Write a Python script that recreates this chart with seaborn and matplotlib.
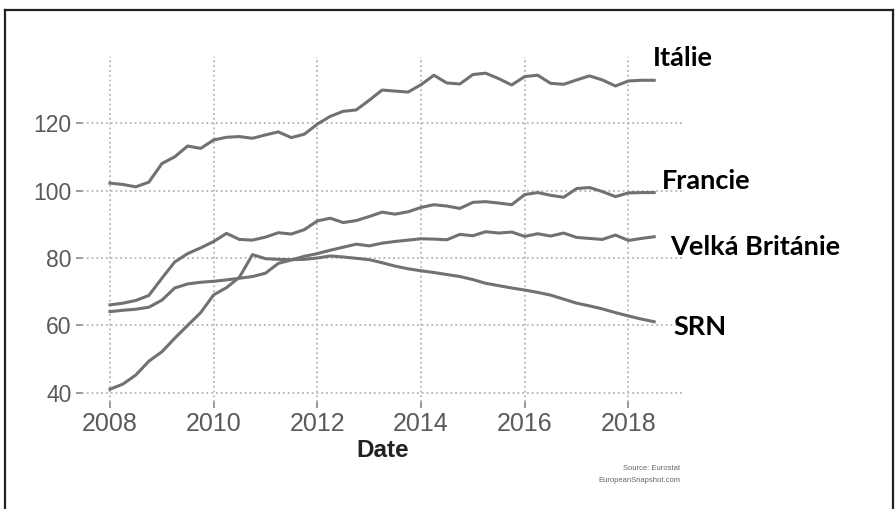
import pandas as pd
import seaborn as sns
import matplotlib.pyplot as plt
import matplotlib.dates as mdates
from matplotlib.lines import Line2D

##############
#### DATA ####
##############

dates = pd.date_range('2008-01-01', periods=43, freq='QS')

italie = [102.2, 101.8, 101.1, 102.5, 108.0, 110.0, 113.2, 112.5, 115.0, 115.8, 116.0,
          115.5, 116.5, 117.4, 115.7, 116.7, 119.7, 122.0, 123.5, 123.9, 126.8, 129.8,
          129.5, 129.2, 131.4, 134.2, 131.9, 131.6, 134.4, 134.8, 133.2, 131.3, 133.8,
          134.2, 131.8, 131.5, 132.8, 134.0, 132.8, 131.0, 132.5, 132.7, 132.7]
francie = [66.1, 66.6, 67.4, 68.9, 74.0, 78.8, 81.3, 83.0, 84.9, 87.3, 85.5,
           85.3, 86.2, 87.5, 87.1, 88.4, 91.0, 91.8, 90.5, 91.1, 92.3, 93.6,
           93.0, 93.7, 95.0, 95.8, 95.4, 94.7, 96.5, 96.7, 96.3, 95.8, 98.8,
           99.4, 98.6, 98.0, 100.6, 100.9, 99.7, 98.2, 99.3, 99.4, 99.4]
velka_britanie = [64.1, 64.5, 64.8, 65.4, 67.5, 71.1, 72.3, 72.8, 73.1, 73.5, 74.0,
                  74.5, 75.5, 78.4, 79.4, 80.5, 81.3, 82.3, 83.2, 84.1, 83.6, 84.4,
                  84.9, 85.3, 85.7, 85.6, 85.4, 87.0, 86.6, 87.8, 87.4, 87.7, 86.4,
                  87.2, 86.5, 87.4, 86.1, 85.8, 85.5, 86.8, 85.2, 85.8, 86.3]
srn = [41.1, 42.6, 45.3, 49.4, 52.2, 56.2, 60.0, 63.8, 69.1, 71.2, 74.3,
       81.0, 79.8, 79.6, 79.5, 79.6, 80.0, 80.6, 80.3, 79.9, 79.5, 78.6,
       77.6, 76.8, 76.2, 75.7, 75.1, 74.5, 73.6, 72.5, 71.8, 71.1, 70.5,
       69.8, 69.0, 67.8, 66.6, 65.8, 64.9, 63.8, 62.8, 61.9, 61.1]

countries = ['Itálie', 'Francie', 'Velká Británie', 'SRN']
series = [italie, francie, velka_britanie, srn]

df = pd.concat([pd.DataFrame({'Date': dates, 'Value': s, 'Country': c})
                for c, s in zip(countries, series)], ignore_index=True)

##############
#### PLOT ####
##############

W, H = 896, 509
fig = plt.figure(figsize=(W / 100, H / 100), dpi=100)
ax = fig.add_axes([82 / W, 1 - 402 / H, 601 / W, 345 / H])

sns.lineplot(data=df, x='Date', y='Value', hue='Country',
             palette=['#717171'] * 4, linewidth=2.2, legend=False, ax=ax)

ax.set_xlim(pd.Timestamp('2007-06-18'), pd.Timestamp('2019-01-20'))
ax.set_ylim(37.3, 139.6)
ax.xaxis.set_major_locator(mdates.YearLocator(2))
ax.xaxis.set_major_formatter(mdates.DateFormatter('%Y'))
ax.set_yticks([40, 60, 80, 100, 120])

for s in ax.spines.values():
    s.set_visible(False)
ax.grid(True, linestyle=':', color='#b5b5b5', linewidth=1.3)
ax.set_axisbelow(True)
ax.tick_params(axis='both', length=4.5, width=1.2, color='#888888', labelcolor='#5a5a5a')
ax.tick_params(axis='x', pad=3, labelsize=18)
ax.tick_params(axis='y', pad=3, labelsize=16.5)
for lab in ax.get_xticklabels() + ax.get_yticklabels():
    lab.set_family('Liberation Sans')

ax.set_xlabel('Date', fontsize=17.5, fontweight='bold', family='Liberation Sans',
              color='#222222', labelpad=2)
ax.set_ylabel('')

# country labels on the right
label_pos = {'Itálie': (653, 58), 'Francie': (662, 181),
             'Velká Británie': (670, 247), 'SRN': (673, 327)}
for name, (px, py) in label_pos.items():
    fig.text(px / W, 1 - py / H, name, fontsize=19.5, fontweight='bold',
             family='Lato', color='black', va='center', ha='left')

fig.text(680 / W, 1 - 469 / H, 'Source: Eurostat', fontsize=5.5, color='#666666',
         ha='right', va='center', family='Liberation Sans')
fig.text(680 / W, 1 - 481 / H, 'EuropeanSnapshot.com', fontsize=5.5, color='#666666',
         ha='right', va='center', family='Liberation Sans')

# outer frame
for xs, ys in [([5, 5], [509, 10]), ([5, 893], [10, 10]), ([893, 893], [10, 509])]:
    fig.add_artist(Line2D([x / W for x in xs], [1 - y / H for y in ys],
                          color='#222222', linewidth=1.6))

plt.savefig('out.png', dpi=100)
plt.close()
